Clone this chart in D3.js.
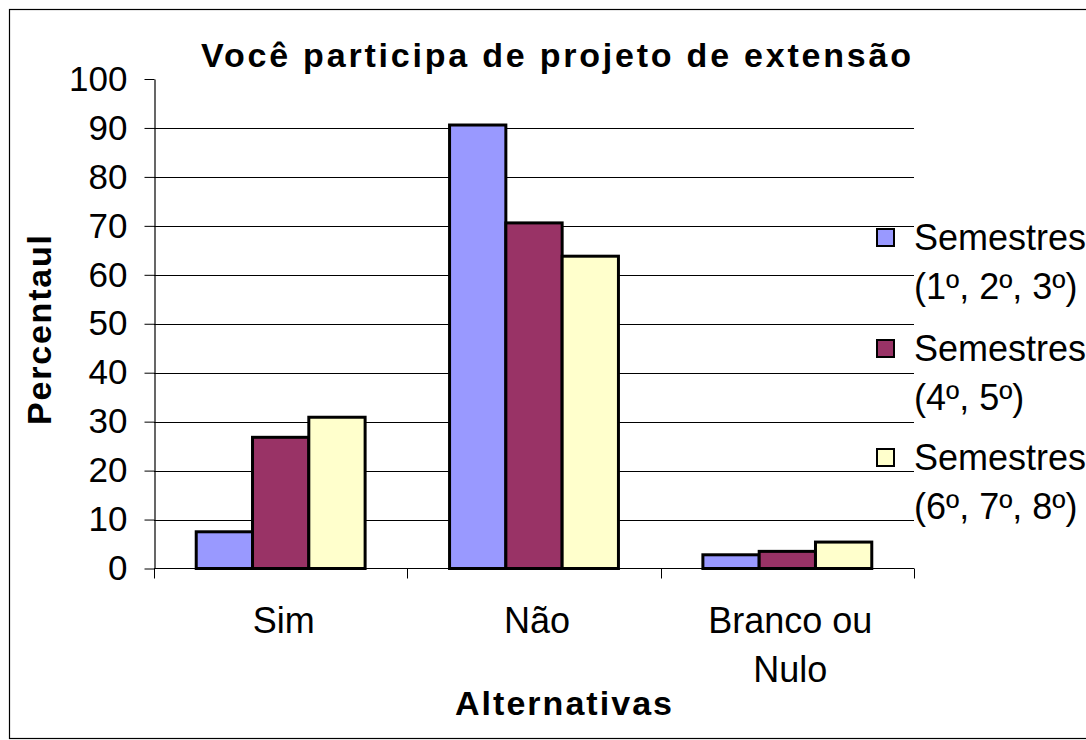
<!DOCTYPE html>
<html>
<head>
<meta charset="utf-8">
<script src="https://cdn.jsdelivr.net/npm/d3@7"></script>
<style>
  body { margin: 0; background: #fff; }
  svg { display: block; font-family: "Liberation Sans", Arial, sans-serif; }
</style>
</head>
<body>
<div id="chart"></div>
<script>
// dados
const categories = ["Sim", "Não", "Branco ou\nNulo"];
const seriesNames = ["Semestres (1º, 2º, 3º)", "Semestres (4º, 5º)", "Semestres (6º, 7º, 8º)"];
const legendLines = [["Semestres", "(1º, 2º, 3º)"], ["Semestres", "(4º, 5º)"], ["Semestres", "(6º, 7º, 8º)"]];
const serie1 = [7.5, 90.6, 2.8];
const serie2 = [26.8, 70.6, 3.5];
const serie3 = [30.9, 63.8, 5.4];
const yTicks = [0, 10, 20, 30, 40, 50, 60, 70, 80, 90, 100];
const colors = ["#9999FF", "#993366", "#FFFFCC"];

const values = [serie1, serie2, serie3];
const width = 1086, height = 740;

const svg = d3.select("#chart").append("svg")
    .attr("width", width)
    .attr("height", height);

// moldura externa
svg.append("rect")
    .attr("x", 9.5).attr("y", 9.5)
    .attr("width", 1100).attr("height", 729)
    .attr("fill", "#fff")
    .attr("stroke", "#000")
    .attr("stroke-width", 1.2);

const x0 = d3.scaleBand()
    .domain(categories)
    .range([154, 914])
    .paddingInner(0).paddingOuter(0);

const x1 = d3.scaleBand()
    .domain(seriesNames)
    .range([0, x0.bandwidth()])
    .paddingInner(0).paddingOuter(0.75);

const y = d3.scaleLinear()
    .domain([0, 100])
    .range([568.5, 79]);

// linhas de grade (sem linha no 100)
svg.append("g")
    .selectAll("line")
    .data(yTicks.filter(d => d > 0 && d < 100))
    .enter().append("line")
    .attr("x1", 154).attr("x2", 914)
    .attr("y1", d => Math.round(y(d)) + 0.5)
    .attr("y2", d => Math.round(y(d)) + 0.5)
    .attr("stroke", "#000")
    .attr("stroke-width", 1);

// barras
categories.forEach((cat, ci) => {
    svg.append("g")
        .selectAll("rect")
        .data(seriesNames)
        .enter().append("rect")
        .attr("x", s => x0(cat) + x1(s))
        .attr("width", x1.bandwidth())
        .attr("y", (s, si) => y(values[si][ci]))
        .attr("height", (s, si) => y(0) - y(values[si][ci]))
        .attr("fill", (s, si) => colors[si])
        .attr("stroke", "#000")
        .attr("stroke-width", 3);
});

// eixo Y
const yAxis = svg.append("g")
    .attr("transform", "translate(154.5,0)")
    .call(d3.axisLeft(y).tickValues(yTicks).tickSize(10).tickPadding(17).tickSizeOuter(0));
yAxis.select(".domain").attr("stroke", "#000").attr("stroke-width", 1.2);
yAxis.selectAll(".tick line").attr("stroke", "#000");
yAxis.selectAll(".tick text")
    .attr("font-size", 35)
    .attr("font-family", "Liberation Sans, Arial, sans-serif")
    .attr("fill", "#000");

// eixo X
svg.append("line")
    .attr("x1", 154).attr("x2", 914)
    .attr("y1", y(0)).attr("y2", y(0))
    .attr("stroke", "#000").attr("stroke-width", 1.2);

svg.append("g")
    .selectAll("line")
    .data(categories.map(c => x0(c)).concat([x0.range()[1]]))
    .enter().append("line")
    .attr("x1", d => Math.round(d) + 0.5).attr("x2", d => Math.round(d) + 0.5)
    .attr("y1", y(0)).attr("y2", y(0) + 10)
    .attr("stroke", "#000");

const xLabels = svg.append("g")
    .selectAll("text")
    .data(categories)
    .enter().append("text")
    .attr("text-anchor", "middle")
    .attr("font-size", 36)
    .attr("fill", "#000");
xLabels.each(function (d) {
    const t = d3.select(this);
    d.split("\n").forEach((line, i) => {
        t.append("tspan")
            .attr("x", x0(d) + x0.bandwidth() / 2 + 3)
            .attr("y", 633 + i * 49)
            .text(line);
    });
});

// título
svg.append("text")
    .attr("x", 201).attr("y", 67)
    .attr("font-size", 34)
    .attr("font-weight", "bold")
    .attr("textLength", 710)
    .attr("lengthAdjust", "spacing")
    .text("Você participa de projeto de extensão");

// títulos dos eixos
svg.append("text")
    .attr("x", 455).attr("y", 715)
    .attr("font-size", 34)
    .attr("font-weight", "bold")
    .attr("textLength", 217)
    .attr("lengthAdjust", "spacing")
    .text("Alternativas");

svg.append("text")
    .attr("transform", "translate(51,330) rotate(-90)")
    .attr("text-anchor", "middle")
    .attr("font-size", 34)
    .attr("font-weight", "bold")
    .attr("textLength", 190)
    .attr("lengthAdjust", "spacing")
    .text("Percentaul");

// legenda
const legendBase = [250, 361, 470];
const legend = svg.append("g")
    .selectAll("g")
    .data(seriesNames)
    .enter().append("g");

legend.append("rect")
    .attr("x", 877)
    .attr("y", (d, i) => legendBase[i] - 21)
    .attr("width", 17).attr("height", 17)
    .attr("fill", (d, i) => colors[i])
    .attr("stroke", "#000")
    .attr("stroke-width", 2);

legend.append("text")
    .attr("font-size", 36)
    .attr("fill", "#000")
    .each(function (d, i) {
        const t = d3.select(this);
        legendLines[i].forEach((line, j) => {
            t.append("tspan")
                .attr("x", 914)
                .attr("y", legendBase[i] + j * 49)
                .text(line);
        });
    });
</script>
</body>
</html>
